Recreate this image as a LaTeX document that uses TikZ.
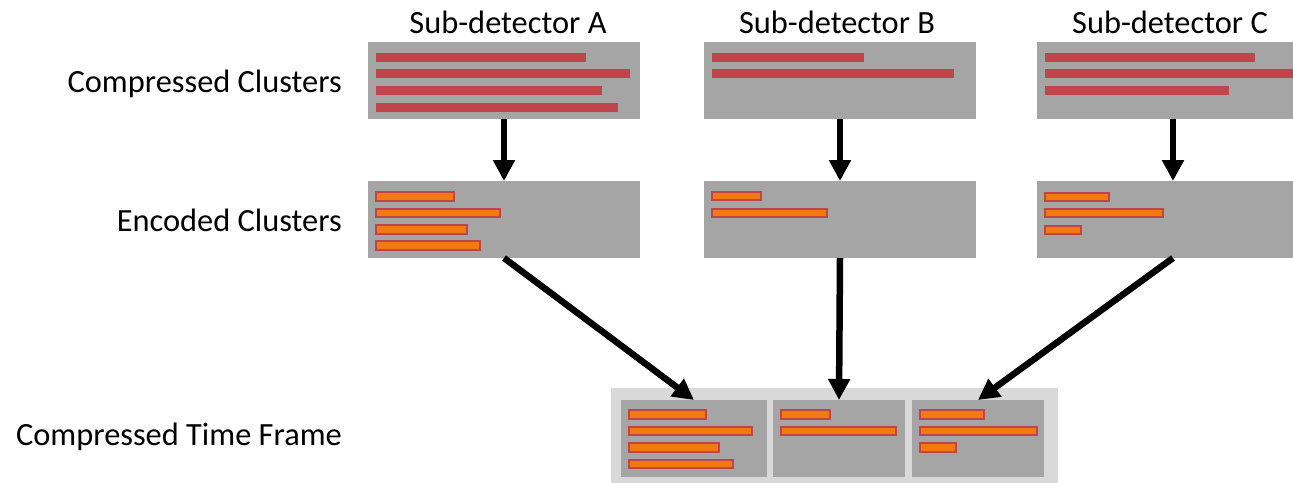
\documentclass[tikz,border=0pt]{standalone}
\usepackage{fontspec}
\setmainfont{Carlito}
\usetikzlibrary{arrows.meta}
\definecolor{boxgrey}{HTML}{A5A5A5}
\definecolor{framegrey}{HTML}{D9D9D9}
\definecolor{clusterred}{HTML}{C0454A}
\definecolor{encorange}{HTML}{F27A10}
\tikzset{
  panel/.style={fill=boxgrey, inner sep=0pt, outer sep=0pt, anchor=north west},
  outerframe/.style={fill=framegrey, inner sep=0pt, outer sep=0pt, anchor=north west},
  rawbar/.style={fill=clusterred},
  encbar/.style={fill=encorange, draw=clusterred, line width=2pt},
  flow/.style={line width=6.5pt, -{Triangle[width=21pt,length=21pt]}},
  rowlabel/.style={font=\fontsize{32.4}{38}\selectfont, anchor=base east, inner sep=0pt},
  collabel/.style={font=\fontsize{32.4}{38}\selectfont, anchor=base, inner sep=0pt},
}
\begin{document}
\begin{tikzpicture}[x=1pt, y=-1pt]
\useasboundingbox (0,0) rectangle (1293,482);
\clip (0,0) rectangle (1293,482);

% column and row labels
\node[collabel] (labA) at (508,33) {Sub-detector A};
\node[collabel] (labB) at (837,33) {Sub-detector B};
\node[collabel] (labC) at (1170,33) {Sub-detector C};
\node[rowlabel] (labCC) at (342,92) {Compressed Clusters};
\node[rowlabel] (labEC) at (342,231.5) {Encoded Clusters};
\node[rowlabel] (labTF) at (342,445.5) {Compressed Time Frame};

% compressed cluster panels
\node[panel, minimum width=272pt, minimum height=77pt] (A1) at (368,42) {};
\node[panel, minimum width=272pt, minimum height=77pt] (B1) at (704,42) {};
\node[panel, minimum width=272pt, minimum height=77pt] (C1) at (1037,42) {};
% encoded cluster panels
\node[panel, minimum width=272pt, minimum height=77pt] (A2) at (368,181) {};
\node[panel, minimum width=272pt, minimum height=77pt] (B2) at (704,181) {};
\node[panel, minimum width=272pt, minimum height=77pt] (C2) at (1037,181) {};
% time frame
\node[outerframe, minimum width=447pt, minimum height=110pt] (tf) at (611,388) {};
\node[panel, minimum width=146pt, minimum height=77pt] (tfA) at (621,400) {};
\node[panel, minimum width=132pt, minimum height=77pt] (tfB) at (773,400) {};
\node[panel, minimum width=132pt, minimum height=77pt] (tfC) at (912,400) {};

% raw cluster bars
\fill[rawbar] (376,53) rectangle (586,62);
\fill[rawbar] (376,69) rectangle (630,78);
\fill[rawbar] (376,86) rectangle (602,95);
\fill[rawbar] (376,103) rectangle (618,112);
\fill[rawbar] (712,53) rectangle (864,62);
\fill[rawbar] (712,69) rectangle (954,78);
\fill[rawbar] (1045,53) rectangle (1255,62);
\fill[rawbar] (1045,69) rectangle (1320,78);
\fill[rawbar] (1045,86) rectangle (1229,95);

% encoded cluster bars
\draw[encbar] (376,192) rectangle (454,201);
\draw[encbar] (376,208.5) rectangle (500,217);
\draw[encbar] (376,225) rectangle (467,233.5);
\draw[encbar] (376,241) rectangle (480,250);
\draw[encbar] (712,192) rectangle (761,200);
\draw[encbar] (712,208.5) rectangle (827,217);
\draw[encbar] (1045,193) rectangle (1109,201);
\draw[encbar] (1045,209) rectangle (1163,217);
\draw[encbar] (1045,225.5) rectangle (1081,233.5);

% time frame bars
\draw[encbar] (629,410) rectangle (706,419);
\draw[encbar] (629,427) rectangle (752,435);
\draw[encbar] (629,443) rectangle (719,452);
\draw[encbar] (629,460) rectangle (733,468);
\draw[encbar] (781,410) rectangle (830,419);
\draw[encbar] (781,427) rectangle (896,435);
\draw[encbar] (920,410) rectangle (984,419);
\draw[encbar] (920,427) rectangle (1037,435);
\draw[encbar] (920,443) rectangle (956,452);

% data flow
\draw[flow] (A1.south) -- (A2.north);
\draw[flow] (B1.south) -- (B2.north);
\draw[flow] (C1.south) -- (C2.north);
\draw[flow] (A2.south) -- (tfA.north);
\draw[flow] (B2.south) -- (tfB.north);
\draw[flow] (C2.south) -- (tfC.north);
\end{tikzpicture}
\end{document}
